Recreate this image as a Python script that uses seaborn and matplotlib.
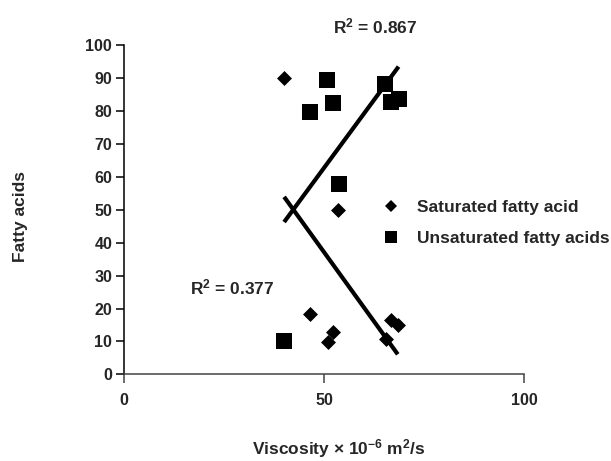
import matplotlib
matplotlib.use("Agg")
import matplotlib.pyplot as plt
from matplotlib.lines import Line2D
import seaborn as sns
import pandas as pd

# Data
sat_x = [40.0, 53.4, 46.5, 52.3, 51.0, 65.5, 66.7, 68.4]
sat_y = [90.0, 50.0, 18.2, 12.8, 9.8, 10.6, 16.4, 15.0]
unsat_x = [40.0, 46.5, 50.8, 52.3, 53.6, 65.1, 66.7, 68.6]
unsat_y = [10.0, 79.7, 89.5, 82.5, 57.8, 88.3, 82.7, 83.7]
series_labels = ["Saturated fatty acid", "Unsaturated fatty acids"]
r2_labels = ["R$^{2}$ = 0.867", "R$^{2}$ = 0.377"]
x_ticks = [0, 50, 100]
y_ticks = list(range(0, 101, 10))

sns.set_theme(style="ticks")
plt.rcParams["font.family"] = ["Liberation Sans", "DejaVu Sans"]
plt.rcParams["font.weight"] = "bold"
plt.rcParams["mathtext.fontset"] = "custom"
plt.rcParams["mathtext.rm"] = "Liberation Sans:bold"
plt.rcParams["mathtext.bf"] = "Liberation Sans:bold"
plt.rcParams["mathtext.default"] = "rm"

sat = pd.DataFrame({"x": sat_x, "y": sat_y})
unsat = pd.DataFrame({"x": unsat_x, "y": unsat_y})

fig = plt.figure(figsize=(6.11, 4.61), dpi=100)
ax = fig.add_axes([0.203, 0.188, 0.655, 0.714])

sns.scatterplot(data=sat, x="x", y="y", marker="D", s=58, color="black",
                linewidth=0, ax=ax, clip_on=False, zorder=3)
sns.scatterplot(data=unsat, x="x", y="y", marker="s", s=132, color="black",
                linewidth=0, ax=ax, clip_on=False, zorder=3)
sns.regplot(data=unsat, x="x", y="y", scatter=False, ci=None, color="black",
            line_kws={"lw": 3, "solid_capstyle": "butt"}, ax=ax)
sns.regplot(data=sat, x="x", y="y", scatter=False, ci=None, color="black",
            line_kws={"lw": 3, "solid_capstyle": "butt"}, ax=ax)

ax.set_xlim(0, 100)
ax.set_ylim(0, 100)
ax.set_xticks(x_ticks)
ax.set_yticks(y_ticks)
ax.tick_params(axis="both", labelsize=11.5, width=1.1)
ax.tick_params(axis="x", length=6.5, pad=7, color="#444444")
ax.tick_params(axis="y", length=6, pad=2.5, color="black")
for lab in ax.get_xticklabels() + ax.get_yticklabels():
    lab.set_fontweight("bold")
sns.despine(ax=ax)
ax.spines["left"].set_color("black")
ax.spines["left"].set_linewidth(1.1)
ax.spines["bottom"].set_color("#444444")
ax.spines["bottom"].set_linewidth(1.1)

ax.set_xlabel("Viscosity \u00d7 10$^{\u22126}$ m$^{2}$/s", fontsize=12.5,
              fontweight="bold")
ax.set_ylabel("Fatty acids", fontsize=12.5, fontweight="bold")
ax.xaxis.set_label_coords(0.537, -0.225)
ax.xaxis.label.set_va("center")
ax.yaxis.set_label_coords(-0.258, 0.48)
ax.yaxis.label.set_va("center")

ax.text(62.75, 105.8, r2_labels[0], fontsize=12.5, fontweight="bold",
        ha="center", va="center", clip_on=False)
ax.text(27.0, 26.4, r2_labels[1], fontsize=12.5, fontweight="bold",
        ha="center", va="center", clip_on=False)

handles = [
    Line2D([], [], marker="D", ls="none", color="black", markersize=6.1,
           markeredgewidth=0),
    Line2D([], [], marker="s", ls="none", color="black", markersize=8.6,
           markeredgewidth=0),
]
ax.legend(handles, series_labels, loc="upper left",
          bbox_to_anchor=(0.645, 0.53), frameon=False, borderpad=0,
          borderaxespad=0, handlelength=1.0, handletextpad=1.0,
          labelspacing=0.9, prop={"size": 12.5, "weight": "bold"})

fig.savefig("out.png", dpi=100)
